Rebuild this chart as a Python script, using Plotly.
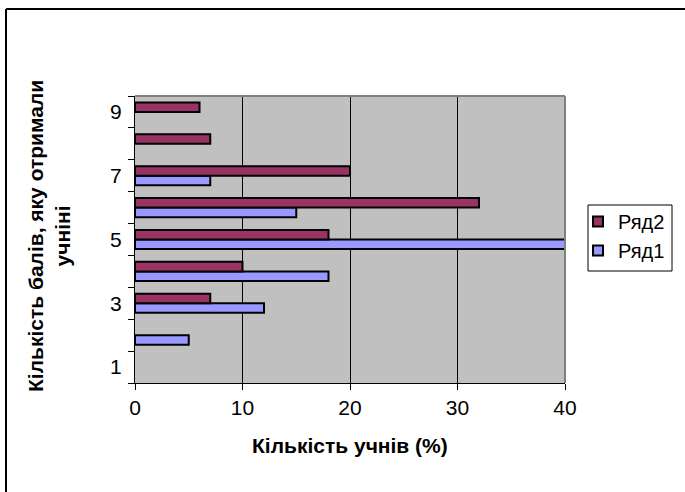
import plotly.graph_objects as go

categories = [1, 2, 3, 4, 5, 6, 7, 8, 9]
series1_name = "Ряд1"
series2_name = "Ряд2"
series1_values = [None, 5, 12, 18, 42, 15, 7, None, None]
series2_values = [None, None, 7, 10, 18, 32, 20, 7, 6]
x_ticks = [0, 10, 20, 30, 40]
y_tick_labels = [1, 3, 5, 7, 9]

FONT = "Liberation Sans"
C1 = "#9999FF"
C2 = "#993366"
FS = 21

fig = go.Figure()
fig.add_trace(go.Bar(
    y=categories, x=series1_values, orientation="h", name=series1_name,
    marker=dict(color=C1, line=dict(color="black", width=2)), showlegend=False,
))
fig.add_trace(go.Bar(
    y=categories, x=series2_values, orientation="h", name=series2_name,
    marker=dict(color=C2, line=dict(color="black", width=2)), showlegend=False,
))
# legend entries (square swatches)
fig.add_trace(go.Scatter(
    x=[None], y=[None], mode="markers", name=series1_name,
    marker=dict(symbol="square", size=10, color=C1, line=dict(color="black", width=2)),
))
fig.add_trace(go.Scatter(
    x=[None], y=[None], mode="markers", name=series2_name,
    marker=dict(symbol="square", size=10, color=C2, line=dict(color="black", width=2)),
))

L, R, T, B = 135, 120, 96, 109
W, H = 685, 492
pw, ph = W - L - R, H - T - B

def px(x):
    return (x - L) / pw

def py(y):
    return (H - B - y) / ph

def hline(x0, x1, y, color="black", width=1):
    return dict(type="line", xref="paper", yref="paper", x0=px(x0), x1=px(x1),
                y0=py(y), y1=py(y), line=dict(color=color, width=width))

def vline(x, y0, y1, color="black", width=1):
    return dict(type="line", xref="paper", yref="paper", x0=px(x), x1=px(x),
                y0=py(y0), y1=py(y1), line=dict(color=color, width=width))

fig.update_layout(
    width=W, height=H,
    margin=dict(l=L, r=R, t=T, b=B, pad=0, autoexpand=False),
    paper_bgcolor="white",
    plot_bgcolor="#C0C0C0",
    barmode="group",
    bargap=0.4,
    bargroupgap=0,
    font=dict(family=FONT, size=FS, color="black"),
    showlegend=True,
    legend=dict(
        x=px(578), y=py(202), xanchor="left", yanchor="top",
        borderwidth=0, bgcolor="rgba(0,0,0,0)",
        traceorder="reversed", font=dict(size=20, family=FONT),
        itemwidth=30,
    ),
    xaxis=dict(
        range=[0, 40], tickvals=x_ticks, ticks="outside", ticklen=6,
        tickcolor="black", showline=True, linecolor="black", linewidth=1,
        showgrid=True, gridcolor="black", gridwidth=1, zeroline=False,
        tickfont=dict(size=FS, family=FONT), fixedrange=True,
    ),
    yaxis=dict(
        range=[0.5, 9.5], tickvals=y_tick_labels, ticks="",
        showline=True, linecolor="black", linewidth=1,
        showgrid=False, zeroline=False, tickfont=dict(size=FS, family=FONT),
        ticklabelstandoff=8, fixedrange=True,
        minor=dict(ticks="outside", tick0=0.5, dtick=1, ticklen=6,
                   tickcolor="black", showgrid=False),
    ),
    shapes=[
        # plot-area frame (top/right grey)
        dict(type="line", xref="paper", yref="paper", x0=0, x1=1, y0=1, y1=1,
             line=dict(color="#808080", width=2)),
        dict(type="line", xref="paper", yref="paper", x0=1, x1=1, y0=0, y1=1,
             line=dict(color="#808080", width=2)),
        # chart border (top/left visible)
        hline(6, 700, 9, width=2),
        vline(6, 9, 500, width=2),
        # legend frame
        hline(588, 672, 205),
        hline(588, 672, 271),
        vline(588, 205, 271),
        vline(672, 205, 271),
    ],
    annotations=[
        dict(text="<b>Кількість учнів (%)</b>", xref="paper", yref="paper",
             x=px(350), y=py(445), xanchor="center", yanchor="middle",
             showarrow=False, font=dict(size=FS, family=FONT)),
        dict(text="<b>Кількість балів, яку отримали<br>учніні</b>",
             xref="paper", yref="paper", x=px(49), y=py(236),
             xanchor="center", yanchor="middle", textangle=-90,
             showarrow=False, font=dict(size=FS, family=FONT)),
    ],
)

fig.write_html(
    "out.html",
    config={"displayModeBar": False},
    post_script="document.body.style.margin='0';document.body.style.padding='0';",
)
